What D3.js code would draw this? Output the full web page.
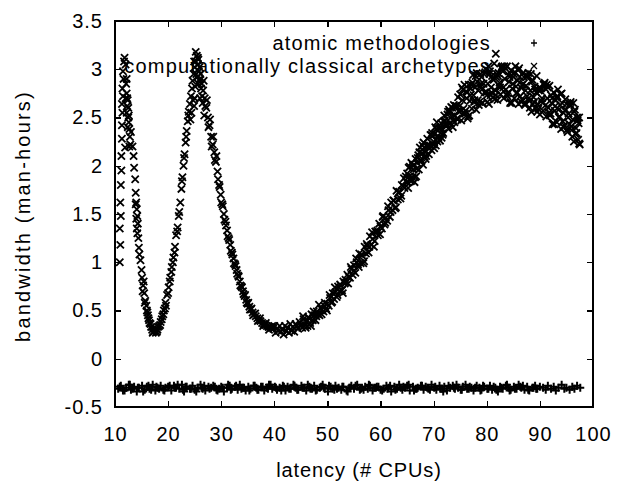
<!DOCTYPE html>
<html>
<head>
<meta charset="UTF-8">
<title>bandwidth vs latency</title>
<script src="https://d3js.org/d3.v7.min.js"></script>
<style>
body { margin: 0; background: #fff; }
text { font-family: "Liberation Sans", Arial, sans-serif; font-size: 20px; fill: #000; }
</style>
</head>
<body>
<svg id="chart"></svg>
<script>
const seriesNames = ["atomic methodologies", "computationally classical archetypes"];
const xTicks = [10, 20, 30, 40, 50, 60, 70, 80, 90, 100];
const yTicks = [-0.5, 0, 0.5, 1, 1.5, 2, 2.5, 3, 3.5];
const yTickLabels = ["-0.5", "0", "0.5", "1", "1.5", "2", "2.5", "3", "3.5"];

// "+" series: flat band near -0.3
const atomicX = [10.6,11.1,11.5,12.1,12.6,13.0,13.6,14.1,14.5,15.1,15.6,16.0,16.5,17.1,17.6,18.0,18.6,19.1,19.5,20.0,
  20.6,21.1,21.5,22.1,22.6,23.0,23.5,24.1,24.6,25.0,25.6,26.1,26.5,27.0,27.6,28.1,28.5,29.1,29.6,30.0,
  30.5,31.1,31.6,32.0,32.6,33.1,33.5,34.0,34.6,35.1,35.5,36.1,36.6,37.0,37.5,38.1,38.6,39.0,39.6,40.1,
  40.5,41.0,41.6,42.1,42.5,43.1,43.6,44.0,44.5,45.1,45.6,46.0,46.6,47.1,47.5,48.0,48.6,49.1,49.5,50.1,
  50.6,51.0,51.5,52.1,52.6,53.0,53.6,54.1,54.5,55.0,55.6,56.1,56.5,57.1,57.6,58.0,58.5,59.1,59.6,60.0,
  60.6,61.1,61.5,62.0,62.6,63.1,63.5,64.1,64.6,65.0,65.5,66.1,66.6,67.0,67.6,68.1,68.5,69.0,69.6,70.1,
  70.5,71.1,71.6,72.0,72.5,73.1,73.6,74.0,74.6,75.1,75.5,76.0,76.6,77.1,77.5,78.1,78.6,79.0,79.5,80.1,
  80.6,81.0,81.6,82.1,82.5,83.0,83.6,84.1,84.5,85.1,85.6,86.0,86.5,87.1,87.6,88.0,88.6,89.1,89.5,90.0,
  90.6,91.1,91.5,92.1,92.6,93.0,93.5,94.1,94.6,95.0,95.6,96.1,96.5,97.0,97.6,
  10.9,11.8,12.8,13.3,14.3,15.3,16.3,16.8,17.8,18.3,19.3,20.3,21.3,21.8,22.8,23.3,24.3,25.3,26.3,26.8,
  27.8,28.8,29.3,30.3,31.3,31.8,32.8,33.8,34.3,35.3,36.3,36.8,37.8,38.8,39.3,40.3,41.3,41.8,42.8,43.8,
  44.3,45.3,46.3,46.8,47.8,48.8,49.3,50.3,51.3,51.8,52.8,53.8,54.3,55.3,56.3,56.8,57.8,58.8,59.3,60.3,
  61.3,61.8,62.8,63.8,64.3,65.3,66.3,66.8,67.8,68.8,69.3,70.3,71.3,71.8,72.8,73.8,74.3,75.3,76.3,76.8,
  77.8,78.8,79.3,80.3,81.3,81.8,82.8,83.8,84.3,85.3,86.3,86.8,87.8,88.8,89.3,90.3,91.3,91.8,92.8,93.8,
  94.3,95.3,96.3,96.8,97.3];
const atomicY = [-0.31,-0.28,-0.33,-0.30,-0.27,-0.32,-0.29,-0.34,-0.30,-0.28,
  -0.32,-0.29,-0.31,-0.27,-0.33,-0.30,-0.28,-0.32,-0.30,-0.29,
  -0.33,-0.28,-0.30,-0.31,-0.27,-0.34,-0.29,-0.31,-0.28,-0.32,
  -0.30,-0.27,-0.31,-0.33,-0.29,-0.30,-0.28,-0.32,-0.31,-0.29,
  -0.34,-0.30,-0.28,-0.31,-0.29,-0.32,-0.27,-0.30,-0.33,-0.29,
  -0.31,-0.28,-0.30,-0.32,-0.29,-0.33,-0.30,-0.27,-0.31,-0.29,
  -0.32,-0.30,-0.28,-0.33,-0.29,-0.31,-0.27,-0.30,-0.32,-0.28,
  -0.30,-0.33,-0.29,-0.31,-0.28,-0.32,-0.30,-0.27,-0.31,-0.34,
  -0.29,-0.31,-0.28,-0.30,-0.32,-0.29,-0.33,-0.30,-0.28,-0.31,
  -0.27,-0.32,-0.30,-0.29,-0.31,-0.28,-0.33,-0.30,-0.29,-0.32,
  -0.31,-0.28,-0.30,-0.34,-0.29,-0.31,-0.27,-0.32,-0.30,-0.28,
  -0.33,-0.29,-0.31,-0.30,-0.28,-0.32,-0.29,-0.31,-0.27,-0.30,
  -0.32,-0.28,-0.31,-0.29,-0.33,-0.30,-0.28,-0.31,-0.30,-0.32,
  -0.29,-0.27,-0.31,-0.30,-0.33,-0.28,-0.30,-0.32,-0.29,-0.31,
  -0.28,-0.32,-0.30,-0.34,-0.29,-0.31,-0.28,-0.30,-0.32,-0.29,
  -0.31,-0.27,-0.30,-0.32,-0.29,-0.33,-0.30,-0.28,-0.31,-0.29,
  -0.30,-0.32,-0.28,-0.31,-0.29,-0.33,-0.30,-0.27,-0.31,-0.30,
  -0.32,-0.29,-0.31,-0.28,-0.30,
  -0.29,-0.33,-0.27,-0.31,-0.30,-0.34,-0.28,-0.32,-0.29,-0.31,
  -0.33,-0.28,-0.30,-0.27,-0.32,-0.29,-0.31,-0.34,-0.30,-0.28,
  -0.31,-0.29,-0.33,-0.30,-0.27,-0.32,-0.28,-0.31,-0.30,-0.33,
  -0.28,-0.32,-0.29,-0.31,-0.27,-0.30,-0.33,-0.29,-0.31,-0.28,
  -0.32,-0.30,-0.27,-0.31,-0.33,-0.29,-0.30,-0.28,-0.32,-0.31,
  -0.29,-0.34,-0.30,-0.28,-0.31,-0.32,-0.27,-0.30,-0.29,-0.33,
  -0.31,-0.28,-0.32,-0.30,-0.29,-0.27,-0.33,-0.31,-0.28,-0.30,
  -0.32,-0.29,-0.31,-0.34,-0.28,-0.30,-0.27,-0.32,-0.31,-0.29,
  -0.30,-0.33,-0.28,-0.31,-0.29,-0.32,-0.30,-0.27,-0.33,-0.31,
  -0.29,-0.28,-0.32,-0.30,-0.31];

// "x" series: [latency, bandwidth]
const archetypePts = [
  [10.9,1.00],[11.0,1.18],[10.9,1.35],[11.1,1.48],[11.0,1.62],[11.1,1.80],[11.2,1.95],[11.2,2.10],[11.3,2.28],[11.3,2.42],
  [11.4,2.55],[11.3,2.64],[11.5,2.72],[11.4,2.80],[11.6,2.90],[11.5,2.98],[11.7,3.08],[11.8,3.12],
  [12.0,3.05],[12.1,2.85],[12.2,2.75],[12.3,2.62],[12.2,2.55],[12.4,2.68],[12.5,2.50],[12.6,2.45],[12.7,2.38],[12.8,2.30],
  [12.9,2.22],[13.3,2.20],[13.6,1.98],[13.8,1.86],[13.9,1.72],[14.0,1.62],[14.1,1.55],[14.2,1.48],[14.3,1.40],[14.2,1.30],
  [12.3,2.70],[12.5,2.60],[12.6,2.52],[12.4,2.40],[12.7,2.20],[13.0,2.35],[12.2,2.90],[12.0,2.70],[13.5,2.10],[13.9,1.60],
  [14.0,1.45],[14.1,1.35],[11.9,2.19],
  [14.8,1.02],[15.0,0.92],[15.1,0.84],[15.3,0.76],[15.5,0.68],[15.7,0.60],[15.9,0.55],[16.1,0.48],[16.3,0.42],[16.5,0.37],
  [16.8,0.33],[17.0,0.30],[17.2,0.28],[17.5,0.29],[17.8,0.31],[18.0,0.30],[18.3,0.34],[18.6,0.38],[18.9,0.44],[19.2,0.50],
  [19.5,0.58],[19.8,0.66],[20.1,0.74],[20.4,0.84],[20.7,0.95],[21.0,1.05],[21.3,1.16],[21.5,1.28],[21.8,1.36],[22.0,1.48],
  [15.2,0.70],[15.6,0.58],[16.0,0.50],[16.4,0.40],[16.7,0.36],[17.1,0.27],[17.4,0.32],[17.7,0.27],[18.1,0.33],[18.5,0.35],
  [18.8,0.41],[19.1,0.46],[19.6,0.55],[20.0,0.68],[14.5,1.15],[14.6,1.08],[14.4,1.25],[15.4,0.80],[16.2,0.45],[17.9,0.28],
  [19.4,0.52],[20.3,0.80],
  [22.3,1.62],[22.5,1.76],[22.7,1.88],[22.9,2.00],[23.1,2.12],[23.3,2.24],[23.5,2.36],[23.7,2.46],[23.9,2.56],[24.1,2.64],
  [24.3,2.72],[24.5,2.80],[24.6,2.88],[24.8,2.95],[25.0,3.02],[25.2,3.08],[25.4,3.14],[25.6,3.05],[25.8,2.98],[25.5,2.92],
  [25.0,2.70],[24.9,2.62],[21.2,1.10],[21.7,1.32],[22.1,1.52],[22.6,1.84],[23.0,2.08],[23.4,2.30],[23.8,2.52],[20.6,0.90],
  [20.9,1.00],
  [24.4,2.55],[24.7,2.68],[25.1,2.82],[25.3,2.95],[25.6,3.12],[25.9,3.02],[26.2,2.80],[26.5,2.65],[24.9,3.08],[25.2,3.18],
  [26.8,2.52],[24.2,2.48],[25.7,2.85],[26.0,2.70],
  [26.0,2.90],[26.3,2.85],[26.6,2.78],[26.9,2.70],[27.2,2.60],[27.5,2.50],[27.8,2.42],[28.1,2.30],[28.4,2.22],[28.7,2.14],
  [29.0,2.04],[29.3,1.94],[29.6,1.80],[29.9,1.70],[30.2,1.60],[30.5,1.50],[30.8,1.42],[31.1,1.33],[31.4,1.25],[31.7,1.18],
  [32.0,1.10],[32.3,1.04],[32.6,0.98],[32.9,0.92],[33.2,0.86],[33.5,0.80],[33.8,0.75],[34.1,0.70],[34.4,0.65],[34.7,0.61],
  [35.0,0.57],[35.3,0.54],[35.6,0.51],[35.9,0.48],[36.2,0.46],[36.5,0.44],[36.8,0.42],[37.1,0.40],[37.4,0.39],[37.7,0.37],
  [38.0,0.36],[38.3,0.35],[38.6,0.34],[38.9,0.33],[39.2,0.33],[39.5,0.32],[39.8,0.31],
  [25.7,3.10],[25.9,2.88],[26.1,2.95],[26.4,2.72],[26.7,2.88],[27.0,2.62],[27.3,2.68],[27.6,2.40],[27.9,2.48],[28.2,2.20],
  [28.5,2.30],[28.8,2.06],[29.1,2.10],[29.4,1.86],[29.7,1.78],[30.0,1.62],[30.3,1.58],[30.6,1.44],[30.9,1.38],[31.2,1.27],
  [31.5,1.23],[31.8,1.12],[32.1,1.08],[32.4,0.99],[32.7,0.96],[33.0,0.88],[33.3,0.85],[33.6,0.76],[33.9,0.74],[34.2,0.67],
  [34.5,0.66],[34.8,0.58],[35.1,0.58],[35.4,0.51],[35.7,0.52],[36.0,0.45],[36.4,0.47],[36.9,0.39],[37.3,0.42],[37.9,0.34],
  [38.4,0.37],[39.0,0.30],[39.6,0.34],
  [40.0,0.34],[40.25,0.27],[40.5,0.31],[40.75,0.29],[41.0,0.34],[41.25,0.28],[41.5,0.30],[41.75,0.25],[42.0,0.34],[42.25,0.29],
  [42.5,0.32],[42.75,0.27],[43.0,0.36],[43.25,0.29],[43.5,0.33],[43.75,0.28],[44.0,0.36],[44.25,0.34],[44.5,0.31],[44.75,0.38],
  [45.0,0.35],[45.25,0.32],[45.5,0.41],[45.75,0.35],[46.0,0.38],[46.25,0.34],[46.5,0.42],[46.75,0.37],[47.0,0.46],[47.25,0.40],
  [47.5,0.45],[47.75,0.40],[48.0,0.49],[48.25,0.46],[48.5,0.45],[48.75,0.52],[49.0,0.51],[49.25,0.49],[49.5,0.58],[49.75,0.52],
  [50.0,0.57],[50.25,0.55],[50.5,0.63],[50.75,0.58],[51.0,0.68],[51.25,0.62],[51.5,0.69],[51.75,0.64],[52.0,0.75],[52.25,0.70],
  [52.5,0.76],[52.75,0.71],[53.0,0.80],[53.25,0.78],[53.5,0.79],[53.75,0.87],[54.0,0.85],[54.25,0.84],[54.5,0.93],[54.75,0.87],
  [55.0,0.97],[55.25,0.89],[55.5,1.00],[55.75,0.98],[56.0,1.09],[56.25,0.99],[56.5,1.07],[56.75,0.99],[57.0,1.16],[57.25,1.09],
  [57.5,1.17],[57.75,1.10],[58.0,1.27],[58.25,1.18],[58.5,1.24],[58.75,1.16],[59.0,1.32],[59.25,1.31],[59.5,1.28],[59.75,1.40],
  [60.0,1.37],[60.25,1.35],[60.5,1.48],[60.75,1.39],[61.0,1.46],[61.25,1.43],[61.5,1.54],[61.75,1.47],[62.0,1.62],[62.25,1.54],
  [62.5,1.64],[62.75,1.56],[63.0,1.74],[63.25,1.65],[63.5,1.73],[63.75,1.66],[64.0,1.80],[64.25,1.79],[64.5,1.77],[64.75,1.89],
  [45.4,0.44],[45.9,0.32],[46.4,0.43],[46.9,0.34],[47.4,0.49],[47.9,0.44],[48.4,0.56],[48.9,0.46],[49.4,0.55],[49.9,0.50],
  [50.4,0.66],[50.9,0.59],[51.4,0.74],[51.9,0.66],[52.4,0.77],[52.9,0.68],[53.4,0.82],[53.9,0.78],[54.4,0.95],[54.9,0.91],
  [55.4,1.04],[55.9,0.95],[56.4,1.08],[56.9,1.01],[57.4,1.19],[57.9,1.16],[58.4,1.31],[58.9,1.22],[59.4,1.33],[59.9,1.29],
  [60.4,1.47],[60.9,1.41],[61.4,1.58],[61.9,1.52],[62.4,1.64],[62.9,1.57],[63.4,1.72],[63.9,1.69],[64.4,1.87],[64.9,1.83],
  [65.0,1.92],[65.2,1.77],[65.4,1.89],[65.6,1.86],[65.8,2.03],[66.0,1.88],[66.2,1.96],[66.4,1.83],[66.6,2.07],[66.8,1.97],
  [67.0,2.08],[67.2,1.96],[67.4,2.19],[67.6,2.05],[67.8,2.13],[68.0,2.01],[68.2,2.19],[68.4,2.14],[68.6,2.10],[68.8,2.28],
  [69.0,2.20],[69.2,2.18],[69.4,2.32],[69.6,2.16],[69.8,2.31],[70.0,2.25],[70.2,2.33],[70.4,2.21],[70.6,2.45],[70.8,2.31],
  [71.0,2.39],[71.2,2.26],[71.4,2.44],[71.6,2.38],[71.8,2.34],[72.0,2.52],[72.2,2.43],[72.4,2.41],[72.6,2.53],[72.8,2.38],
  [73.0,2.56],[73.2,2.44],[73.4,2.51],[73.6,2.40],[73.8,2.63],[74.0,2.52],[74.2,2.60],[74.4,2.49],[74.6,2.71],[74.8,2.56],
  [65.1,1.83],[65.5,1.99],[65.9,1.85],[66.3,2.01],[66.7,1.89],[67.1,2.11],[67.5,2.06],[67.9,2.21],[68.3,2.09],[68.7,2.20],
  [69.1,2.12],[69.5,2.32],[69.9,2.22],[70.3,2.40],[70.7,2.25],[71.1,2.39],[71.5,2.29],[71.9,2.46],[72.3,2.42],[72.7,2.56],
  [73.1,2.44],[73.5,2.60],[73.9,2.45],[74.3,2.62],[74.7,2.57],
  [65.3,1.98],[65.7,1.84],[66.1,2.00],[66.5,1.88],[66.9,2.03],[67.3,2.14],[67.7,2.05],[68.1,2.24],[68.5,2.07],[68.9,2.22],
  [69.3,2.21],[69.7,2.34],[70.1,2.18],[70.5,2.38],[70.9,2.29],[71.3,2.39],[71.7,2.32],[72.1,2.47],[72.5,2.43],[72.9,2.58],
  [73.3,2.61],[73.7,2.47],[74.1,2.62],[74.5,2.48],[74.9,2.62],
  [75.0,2.74],[75.2,2.47],[75.4,2.68],[75.6,2.59],[75.8,2.84],[76.0,2.57],[76.2,2.70],[76.4,2.49],[76.6,2.84],[76.8,2.67],
  [77.0,2.80],[77.2,2.59],[77.4,2.94],[77.6,2.66],[77.8,2.81],[78.0,2.58],[78.2,2.87],[78.4,2.78],[78.6,2.66],[78.8,2.95],
  [79.0,2.92],[79.2,2.65],[79.4,2.85],[79.6,2.76],[79.8,3.00],[80.0,2.73],[80.2,2.85],[80.4,2.64],[80.6,2.98],[80.8,2.81],
  [81.0,2.93],[81.2,2.71],[81.4,3.06],[81.6,2.78],[81.8,2.92],[82.0,2.68],[82.2,2.96],[82.4,2.86],[82.6,2.74],[82.8,3.02],
  [83.0,2.98],[83.2,2.70],[83.4,2.90],[83.6,2.79],[83.8,3.03],[84.0,2.75],[84.2,2.87],[84.4,2.65],[84.6,2.99],[84.8,2.80],
  [85.0,2.92],[85.2,2.70],[85.4,3.03],[85.6,2.75],[85.8,2.88],[86.0,2.64],[86.2,2.92],[86.4,2.81],[86.6,2.69],[86.8,2.96],
  [87.0,2.92],[87.2,2.63],[87.4,2.83],[87.6,2.72],[87.8,2.96],[88.0,2.67],[88.2,2.78],[88.4,2.56],[88.6,2.89],[88.8,2.71],
  [89.0,2.82],[89.2,2.59],[89.4,2.93],[89.6,2.64],[89.8,2.78],[90.0,2.53],[90.2,2.80],[90.4,2.70],[90.6,2.57],[90.8,2.85],
  [91.0,2.80],[91.2,2.51],[91.4,2.70],[91.6,2.60],[91.8,2.83],[92.0,2.54],[92.2,2.65],[92.4,2.43],[92.6,2.76],[92.8,2.57],
  [93.0,2.68],[93.2,2.45],[93.4,2.79],[93.6,2.50],[93.8,2.63],[94.0,2.38],[94.2,2.65],[94.4,2.55],[94.6,2.42],[94.8,2.69],
  [95.0,2.64],[95.2,2.35],[95.4,2.54],[95.6,2.43],[95.8,2.66],[96.0,2.37],[96.2,2.48],[96.4,2.25],[96.6,2.58],[96.8,2.39],
  [97.0,2.50],[97.2,2.27],[97.4,2.50],[97.5,2.22],
  [75.1,2.57],[75.5,2.79],[75.9,2.54],[76.3,2.76],[76.7,2.52],[77.1,2.84],[77.5,2.73],[77.9,2.93],[78.3,2.68],[78.7,2.82],
  [79.1,2.65],[79.5,2.95],[79.9,2.76],[80.3,3.03],[80.7,2.73],[81.1,2.90],[81.5,2.69],[81.7,3.16],[81.9,2.95],[82.3,2.83],
  [82.7,3.01],[83.1,2.81],[83.5,3.01],[83.9,2.72],[84.3,2.92],[84.7,2.65],[85.1,2.95],[85.5,2.82],[85.9,2.99],[86.3,2.72],
  [86.7,2.84],[87.1,2.64],[87.5,2.92],[87.9,2.70],[88.3,2.95],[88.7,2.64],[89.1,2.79],[89.5,2.56],[89.9,2.81],[90.3,2.67],
  [90.7,2.84],[91.1,2.63],[91.5,2.81],[91.9,2.52],[92.3,2.70],[92.7,2.43],[93.1,2.71],[93.5,2.58],[93.9,2.74],[94.3,2.46],
  [94.7,2.57],[95.1,2.37],[95.5,2.63],[95.9,2.41],[96.3,2.65],[96.7,2.33],[97.1,2.47],[97.4,2.23],
  [75.3,2.81],[75.7,2.55],[76.1,2.77],[76.5,2.51],[76.9,2.73],[77.3,2.86],[77.7,2.68],[78.1,2.96],[78.5,2.63],[78.9,2.85],
  [79.3,2.80],[79.7,2.97],[80.1,2.66],[80.5,2.95],[80.9,2.76],[81.3,2.89],[81.7,2.73],[82.1,2.93],[82.5,2.81],[82.9,3.03],
  [83.3,3.03],[83.7,2.74],[84.1,2.94],[84.5,2.66],[84.9,2.85],[85.3,2.97],[85.7,2.76],[86.1,3.01],[86.5,2.66],[86.9,2.85],
  [87.3,2.78],[87.7,2.93],[88.1,2.60],[88.5,2.87],[88.9,2.66],[89.3,2.76],[89.7,2.59],[90.1,2.78],[90.5,2.65],[90.9,2.86],
  [91.3,2.84],[91.7,2.55],[92.1,2.73],[92.5,2.44],[92.9,2.62],[93.3,2.72],[93.7,2.51],[94.1,2.75],[94.5,2.40],[94.9,2.58],
  [95.3,2.50],[95.7,2.64],[96.1,2.30],[96.5,2.56],[96.9,2.34],[97.3,2.44]
];

const width = 627, height = 482;
const margins = {top: 21, right: 34, bottom: 75, left: 115};

const svg = d3.select("#chart")
  .attr("width", width)
  .attr("height", height);

const x = d3.scaleLinear().domain([10, 100]).range([margins.left, width - margins.right]);
const y = d3.scaleLinear().domain([-0.5, 3.5]).range([height - margins.bottom, margins.top]);

const plus = "M-4,0H4M0,-4V4";
const cross = "M-3.6,-3.6L3.6,3.6M-3.6,3.6L3.6,-3.6";
const keyPlus = "M-3,0H3M0,-3.5V3.5";
const keyCross = "M-3,-3L3,3M-3,3L3,-3";

// ticks, all pointing inward like gnuplot
function tidy(g) {
  g.select(".domain").remove();
  g.selectAll("line").attr("shape-rendering", "crispEdges").attr("stroke-width", 1.3);
  g.attr("font-size", null).attr("font-family", null);
}

svg.append("g")
  .attr("transform", `translate(0,${y(-0.5)})`)
  .call(d3.axisBottom(x).tickValues(xTicks).tickSize(-6).tickPadding(20).tickFormat(d3.format("d")))
  .call(tidy)
  .selectAll("text").attr("letter-spacing", 1);

svg.append("g")
  .attr("transform", `translate(0,${y(3.5)})`)
  .call(d3.axisTop(x).tickValues(xTicks).tickSize(-6).tickFormat(""))
  .call(tidy);

svg.append("g")
  .attr("transform", `translate(${x(10)},0)`)
  .call(d3.axisLeft(y).tickValues(yTicks).tickSize(-6).tickPadding(12).tickFormat((d, i) => yTickLabels[i]))
  .call(tidy)
  .selectAll("text").attr("letter-spacing", 1);

svg.append("g")
  .attr("transform", `translate(${x(100)},0)`)
  .call(d3.axisRight(y).tickValues(yTicks).tickSize(-6).tickFormat(""))
  .call(tidy);

// frame
svg.append("rect")
  .attr("x", x(10)).attr("y", y(3.5))
  .attr("width", x(100) - x(10)).attr("height", y(-0.5) - y(3.5))
  .attr("fill", "none").attr("stroke", "#000").attr("stroke-width", 1.3)
  .attr("shape-rendering", "crispEdges");

// axis titles
svg.append("text")
  .attr("x", (x(10) + x(100)) / 2 + 5)
  .attr("y", 477)
  .attr("text-anchor", "middle")
  .attr("letter-spacing", 0.9)
  .text("latency (# CPUs)");

svg.append("text")
  .attr("text-anchor", "middle")
  .attr("letter-spacing", 2.2)
  .attr("transform", `translate(30,${(y(-0.5) + y(3.5)) / 2 + 2})rotate(-90)`)
  .text("bandwidth (man-hours)");

// key
const keyRows = [
  {name: seriesNames[0], shape: keyPlus, base: 50},
  {name: seriesNames[1], shape: keyCross, base: 73}
];
const key = svg.append("g");
key.selectAll("text").data(keyRows).enter().append("text")
  .attr("x", 491)
  .attr("y", d => d.base)
  .attr("text-anchor", "end")
  .attr("letter-spacing", 1.2)
  .text(d => d.name);
key.selectAll("path").data(keyRows).enter().append("path")
  .attr("transform", d => `translate(534,${d.base - 7})`)
  .attr("d", d => d.shape)
  .attr("stroke", "#000").attr("stroke-width", 1.3).attr("fill", "none");

// points
const atomic = d3.zip(atomicX, atomicY);

svg.append("g").selectAll("path")
  .data(atomic).enter().append("path")
  .attr("transform", d => `translate(${x(d[0])},${y(d[1])})`)
  .attr("d", plus)
  .attr("stroke", "#000").attr("stroke-width", 2).attr("fill", "none");

svg.append("g").selectAll("path")
  .data(archetypePts).enter().append("path")
  .attr("transform", d => `translate(${x(d[0])},${y(d[1])})`)
  .attr("d", cross)
  .attr("stroke", "#000").attr("stroke-width", 1.8).attr("fill", "none");
</script>
</body>
</html>
